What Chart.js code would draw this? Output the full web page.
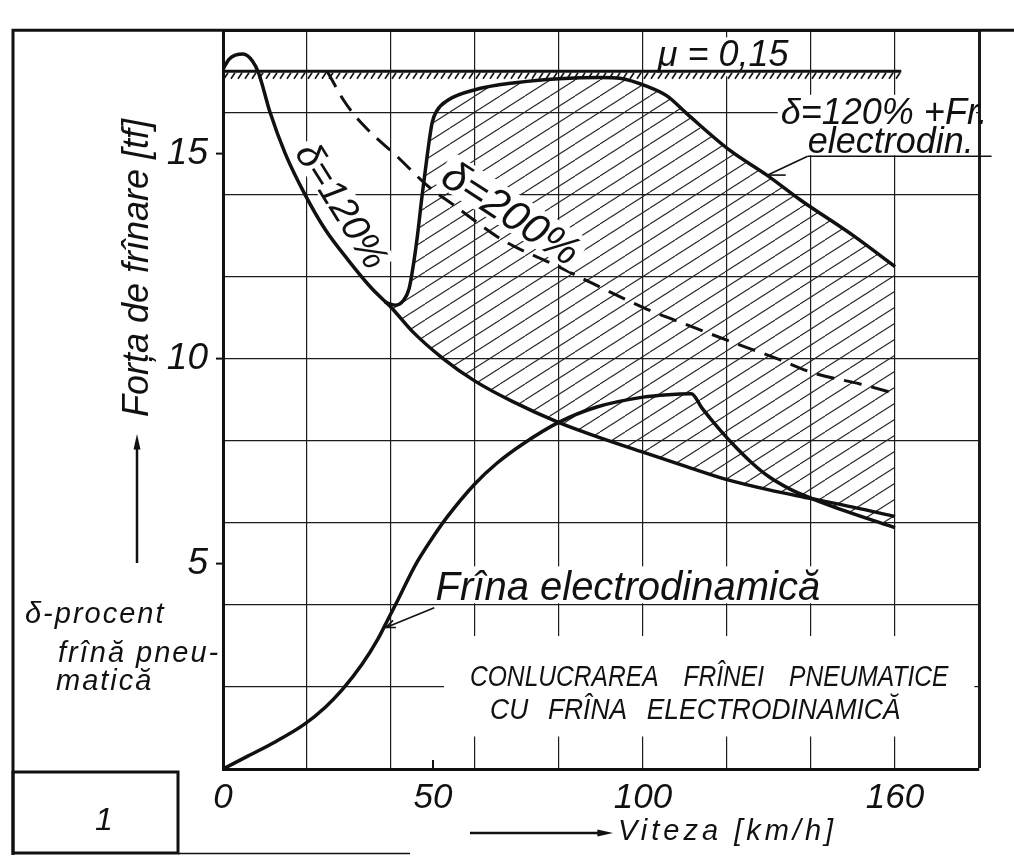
<!DOCTYPE html>
<html lang="ro">
<head>
<meta charset="UTF-8" />
<title>Conlucrarea frînei pneumatice cu frîna electrodinamică</title>
<script src="https://cdn.jsdelivr.net/npm/chart.js"></script>
<style>
  html, body { margin: 0; padding: 0; background: #fff; overflow: hidden; }
  .chart-box { width: 1014px; height: 856px; position: relative; }
</style>
</head>
<body>
<div class="chart-box"><canvas id="brakeChart"></canvas></div>
<script>
// values: speed [km/h] -> braking force [tf]

// delta = 120 % (pneumatic brake)
const speed120 = [0, 1.5, 4.8, 7, 8.5, 11.2, 14.8, 19.5, 24.3, 29.8, 35.5, 40, 45.2, 52.4, 60, 69, 80, 89, 100, 110, 120, 130, 140, 150, 160];
const force120 = [17.05, 17.3, 17.42, 17.25, 16.95, 16.0, 15.0, 14.0, 13.15, 12.4, 11.7, 11.25, 10.65, 10.0, 9.45, 8.95, 8.44, 8.1, 7.72, 7.38, 7.05, 6.8, 6.59, 6.38, 6.15];

// electrodynamic brake
const speedEd = [0, 6, 12.4, 19.5, 24.3, 28.3, 33.1, 36.9, 39.3, 41.7, 45.7, 49.8, 53.3, 60, 65.2, 71.4, 79.8, 89, 100, 106, 111.5, 114, 118, 122, 126, 130, 135, 140.2, 148.6, 160];
const forceEd = [0, 0.32, 0.66, 1.1, 1.5, 1.92, 2.55, 3.17, 3.65, 4.13, 4.95, 5.62, 6.13, 6.95, 7.45, 7.92, 8.44, 8.82, 9.06, 9.12, 9.14, 8.8, 8.3, 7.85, 7.45, 7.12, 6.82, 6.59, 6.27, 5.88];

// delta = 120 % + electrodynamic brake
const speedSum = [38.5, 41, 43, 44.3, 45.2, 46.3, 47.4, 48.6, 49.8, 51, 53.6, 60, 69.5, 80, 90, 94.5, 101, 105.7, 110.5, 120.7, 129.5, 137.4, 150, 160];
const forceSum = [11.38, 11.3, 11.42, 11.7, 12.2, 13.0, 13.97, 14.93, 15.75, 16.05, 16.3, 16.55, 16.72, 16.82, 16.85, 16.83, 16.63, 16.4, 15.96, 15.07, 14.47, 13.87, 13.0, 12.24];

// delta = 200 %
const speed200 = [24.8, 29, 33.3, 41.4, 48.8, 54.8, 66.7, 78.6, 88, 101, 110.5, 120.7, 131.9, 140.5, 151.7, 160];
const force200 = [17.0, 16.25, 15.7, 14.93, 14.2, 13.75, 12.88, 12.3, 11.83, 11.2, 10.82, 10.42, 10.0, 9.65, 9.38, 9.15];

// adhesion limit mu = 0,15
const speedMu = [0, 161.5];
const forceMu = [17.0, 17.0];

// axes
const speedTickLabels = [0, 50, 100, 160];
const forceTickLabels = [5, 10, 15];
const speedMax = 180, speedGrid = 20;
const forceMax = 18, forceGrid = 2;

const SANS = '"Liberation Sans", Arial, sans-serif';
const INK = '#111';

const toPoints = (xs, ys) => xs.map((x, i) => ({ x: x, y: ys[i] }));

function gridValues(step, max, extra) {
  const vals = [];
  for (let v = 0; v <= max; v += step) vals.push(v);
  extra.forEach(v => { if (!vals.includes(v)) vals.push(v); });
  return vals.sort((a, b) => a - b);
}

// diagonal hatching used for the shaded area
function makeHatch(ctx) {
  const w = 25, h = 16;
  const tile = document.createElement('canvas');
  tile.width = w; tile.height = h;
  const t = tile.getContext('2d');
  t.strokeStyle = '#262626';
  t.lineWidth = 1.1;
  [-w, 0, w].forEach(dx => {
    t.beginPath();
    t.moveTo(dx, h);
    t.lineTo(dx + w, 0);
    t.stroke();
  });
  return ctx.createPattern(tile, 'repeat');
}

// labels inside the plot, positioned in data units
const plotLabels = [
  { text: 'μ = 0,15', x: 103.5, y: 17.12, size: 36, padX: 4, padY: 3 },
  { text: 'δ=120% +Fr.', x: 132.8, y: 15.72, size: 36, padX: 3, padY: 3 },
  { text: 'electrodin.', x: 139.2, y: 15.0, size: 36, padX: 3, padY: 2 },
  { text: 'Frîna electrodinamică', x: 50.6, y: 4.11, size: 40, padX: 5, padY: 3 },
  { text: 'CONLUCRAREA FRÎNEI PNEUMATICE', x: 58.8, y: 2.02, size: 30, stretch: 0.82, wordSpacing: '22px', padX: 26, padY: 24 },
  { text: 'CU FRÎNA ELECTRODINAMICĂ', x: 63.6, y: 1.23, size: 30, stretch: 0.88, wordSpacing: '14px', padX: 26, padY: 18 },
  { text: 'δ=120%', x: 27.9, y: 13.7, size: 38, rot: 58, align: 'center', baseline: 'middle', padX: 3, padY: 2 },
  { text: 'δ=200%', x: 68.3, y: 13.5, size: 42, rot: 33, align: 'center', baseline: 'middle', padX: 4, padY: 3, overHatch: true }
];

function withLabel(chart, l, fn) {
  const { ctx, scales } = chart;
  ctx.save();
  ctx.translate(scales.x.getPixelForValue(l.x), scales.y.getPixelForValue(l.y));
  if (l.rot) ctx.rotate(l.rot * Math.PI / 180);
  if (l.stretch) ctx.scale(l.stretch, 1);
  ctx.font = 'italic ' + l.size + 'px ' + SANS;
  ctx.wordSpacing = l.wordSpacing || '0px';
  ctx.textAlign = l.align || 'left';
  ctx.textBaseline = l.baseline || 'alphabetic';
  fn(ctx);
  ctx.restore();
}

function whiteUnder(chart, l) {
  withLabel(chart, l, ctx => {
    const m = ctx.measureText(l.text);
    const sx = l.stretch || 1;
    const left = (l.align === 'center' ? -m.width / 2 : 0) - l.padX / sx;
    const top = -m.actualBoundingBoxAscent - l.padY;
    let w = m.width + 2 * l.padX / sx;
    const h = m.actualBoundingBoxAscent + m.actualBoundingBoxDescent + 2 * l.padY;
    if (!l.rot) {
      // keep the right frame line visible
      const room = (chart.chartArea.right - 3 - ctx.getTransform().e) / sx - left;
      w = Math.min(w, room);
    }
    ctx.fillStyle = '#fff';
    ctx.fillRect(left, top, w, h);
  });
}

function drawLabel(chart, l) {
  withLabel(chart, l, ctx => {
    ctx.fillStyle = INK;
    ctx.fillText(l.text, 0, 0);
  });
}

function arrowHead(ctx, x0, y0, x1, y1, len, spread, filled) {
  const a = Math.atan2(y1 - y0, x1 - x0);
  const p1 = [x1 - len * Math.cos(a - spread), y1 - len * Math.sin(a - spread)];
  const p2 = [x1 - len * Math.cos(a + spread), y1 - len * Math.sin(a + spread)];
  ctx.beginPath();
  ctx.moveTo(p1[0], p1[1]);
  ctx.lineTo(x1, y1);
  ctx.lineTo(p2[0], p2[1]);
  if (filled) { ctx.closePath(); ctx.fill(); } else ctx.stroke();
}

const figurePlugin = {
  id: 'figureText',
  beforeDatasetsDraw(chart) {
    plotLabels.forEach(l => { if (!l.overHatch) whiteUnder(chart, l); });
  },
  afterDatasetsDraw(chart) {
    const { ctx, chartArea, scales: { x, y } } = chart;
    plotLabels.forEach(l => {
      if (l.overHatch) whiteUnder(chart, l);
      drawLabel(chart, l);
    });

    ctx.save();
    ctx.strokeStyle = INK;
    ctx.fillStyle = INK;

    // little hatch marks under the mu line
    const yMu = y.getPixelForValue(forceMu[0]);
    ctx.lineWidth = 1.6;
    for (let px = x.getPixelForValue(speedMu[0]) + 5; px <= x.getPixelForValue(speedMu[1]); px += 7) {
      ctx.beginPath();
      ctx.moveTo(px, yMu + 1.5);
      ctx.lineTo(px - 4, yMu + 7.5);
      ctx.stroke();
    }

    // labelled speed ticks that have no grid line
    ctx.lineWidth = 2;
    speedTickLabels.filter(v => v % speedGrid !== 0).forEach(v => {
      const px = x.getPixelForValue(v);
      ctx.beginPath();
      ctx.moveTo(px, chartArea.bottom);
      ctx.lineTo(px, chartArea.bottom - 9);
      ctx.stroke();
    });

    // leader of "delta=120% +Fr. electrodin."
    ctx.lineWidth = 1.6;
    const uy = y.getPixelForValue(14.93);
    ctx.beginPath();
    ctx.moveTo(x.getPixelForValue(139.2), uy);
    ctx.lineTo(x.getPixelForValue(183), uy);
    ctx.stroke();
    const l0 = [x.getPixelForValue(139.2), uy];
    const l1 = [x.getPixelForValue(129.7), y.getPixelForValue(14.47)];
    ctx.beginPath();
    ctx.moveTo(l0[0], l0[1]);
    ctx.lineTo(l1[0], l1[1]);
    ctx.stroke();
    ctx.beginPath();
    ctx.moveTo(l1[0], l1[1]);
    ctx.lineTo(l1[0] + 18, l1[1]);
    ctx.stroke();

    // leader of "Frina electrodinamica"
    const f0 = [x.getPixelForValue(50.3), y.getPixelForValue(3.93)];
    const f1 = [x.getPixelForValue(38.8), y.getPixelForValue(3.45)];
    ctx.beginPath();
    ctx.moveTo(f0[0], f0[1]);
    ctx.lineTo(f1[0], f1[1]);
    ctx.stroke();
    arrowHead(ctx, f0[0], f0[1], f1[0], f1[1], 10, 0.4, false);
    ctx.restore();
  },
  afterDraw(chart) {
    const { ctx, chartArea } = chart;
    ctx.save();
    ctx.strokeStyle = INK;
    ctx.fillStyle = INK;

    // outer frame of the drawing
    ctx.lineWidth = 3;
    ctx.beginPath();
    ctx.moveTo(13, chartArea.top);
    ctx.lineTo(1014, chartArea.top);
    ctx.moveTo(13, chartArea.top - 1.5);
    ctx.lineTo(13, 855);
    ctx.stroke();
    ctx.strokeRect(13, 772, 165, 81);
    ctx.lineWidth = 1.5;
    ctx.beginPath();
    ctx.moveTo(178, 853.5);
    ctx.lineTo(410, 853.5);
    ctx.stroke();

    ctx.font = 'italic 32px ' + SANS;
    ctx.textAlign = 'center';
    ctx.fillText('1', 104, 830);

    // y axis title with arrow
    ctx.save();
    ctx.translate(148, 417);
    ctx.rotate(-Math.PI / 2);
    ctx.font = 'italic 36px ' + SANS;
    ctx.textAlign = 'left';
    ctx.fillText('Forța de frînare [tf]', 0, 0);
    ctx.restore();
    ctx.lineWidth = 2.5;
    ctx.beginPath();
    ctx.moveTo(137, 563);
    ctx.lineTo(137, 445);
    ctx.stroke();
    arrowHead(ctx, 137, 563, 137, 434, 16, 0.22, true);

    // note on delta
    ctx.font = 'italic 29px ' + SANS;
    ctx.textAlign = 'left';
    ctx.letterSpacing = '2px';
    ctx.fillText('δ-procent', 25, 623);
    ctx.fillText('frînă pneu-', 58, 662);
    ctx.fillText('matică', 56, 690);

    // x axis title with arrow
    ctx.letterSpacing = '0px';
    ctx.lineWidth = 2.5;
    ctx.beginPath();
    ctx.moveTo(470, 833);
    ctx.lineTo(600, 833);
    ctx.stroke();
    arrowHead(ctx, 470, 833, 613, 833, 16, 0.22, true);
    ctx.font = 'italic 29px ' + SANS;
    ctx.letterSpacing = '4px';
    ctx.fillText('Viteza [km/h]', 618, 840);
    ctx.restore();
  }
};

document.addEventListener('DOMContentLoaded', function () {
  const canvas = document.getElementById('brakeChart');
  const ctx = canvas.getContext('2d');
  const hatch = makeHatch(ctx);

  const curve = (data, extra) => Object.assign({
    data: data,
    showLine: true,
    pointRadius: 0,
    borderColor: INK,
    borderWidth: 3.5,
    cubicInterpolationMode: 'monotone',
    fill: false
  }, extra);

  const edPoints = toPoints(speedEd, forceEd);

  const datasets = [
    curve(toPoints(speed120, force120), { label: 'δ=120%', order: 3 }),
    curve(edPoints, { label: 'Frîna electrodinamică', order: 2 }),
    curve(toPoints(speedSum, forceSum), {
      label: 'δ=120% + Fr. electrodin.',
      order: 9,
      fill: { target: 0, above: hatch, below: hatch }
    }),
    curve(toPoints(speed200, force200), { label: 'δ=200%', order: 1, borderWidth: 3, borderDash: [18, 10] }),
    curve(toPoints(speedMu, forceMu), { label: 'μ = 0,15', order: 1, borderWidth: 3, cubicInterpolationMode: 'default', tension: 0 }),
    // strip between the two lower curves where the electrodynamic force drops below delta=120%
    curve(edPoints.filter(p => p.x >= 140), {
      label: 'rest',
      order: 10,
      borderWidth: 0,
      borderColor: 'rgba(0,0,0,0)',
      fill: { target: 0, above: hatch, below: hatch }
    })
  ];

  const xTicks = gridValues(speedGrid, speedMax, speedTickLabels);
  const yTicks = gridValues(forceGrid, forceMax, forceTickLabels);

  new Chart(ctx, {
    type: 'scatter',
    data: { datasets: datasets },
    options: {
      responsive: true,
      maintainAspectRatio: false,
      animation: false,
      layout: { padding: { left: 0, top: 20, right: 35, bottom: 0 } },
      plugins: {
        legend: { display: false },
        tooltip: { enabled: false }
      },
      scales: {
        x: {
          type: 'linear',
          min: 0,
          max: speedMax,
          afterFit: scale => { scale.height = 87; },
          afterBuildTicks: scale => { scale.ticks = xTicks.map(v => ({ value: v })); },
          border: { color: INK, width: 3 },
          grid: {
            drawTicks: false,
            color: c => (c.tick && (c.tick.value === 0 || c.tick.value % speedGrid !== 0)) ? 'rgba(0,0,0,0)' : '#1c1c1c',
            lineWidth: c => (c.tick && c.tick.value === speedMax) ? 3 : 1.2
          },
          ticks: {
            autoSkip: false,
            maxRotation: 0,
            padding: 8,
            color: INK,
            font: { family: SANS, size: 35, style: 'italic' },
            callback: v => speedTickLabels.includes(v) ? String(v) : ''
          }
        },
        y: {
          type: 'linear',
          min: 0,
          max: forceMax,
          afterFit: scale => { scale.width = 223; },
          afterBuildTicks: scale => { scale.ticks = yTicks.map(v => ({ value: v })); },
          border: { color: INK, width: 3 },
          grid: {
            drawTicks: true,
            tickLength: 7,
            tickWidth: 2,
            tickColor: c => (c.tick && forceTickLabels.includes(c.tick.value)) ? INK : 'rgba(0,0,0,0)',
            color: c => (c.tick && (c.tick.value === 0 || c.tick.value % forceGrid !== 0)) ? 'rgba(0,0,0,0)' : '#1c1c1c',
            lineWidth: c => (c.tick && c.tick.value === forceMax) ? 3 : 1.2
          },
          ticks: {
            autoSkip: false,
            padding: 8,
            color: INK,
            font: { family: SANS, size: 37, style: 'italic' },
            callback: v => forceTickLabels.includes(v) ? String(v) : ''
          }
        }
      }
    },
    plugins: [figurePlugin]
  });
});
</script>
</body>
</html>
